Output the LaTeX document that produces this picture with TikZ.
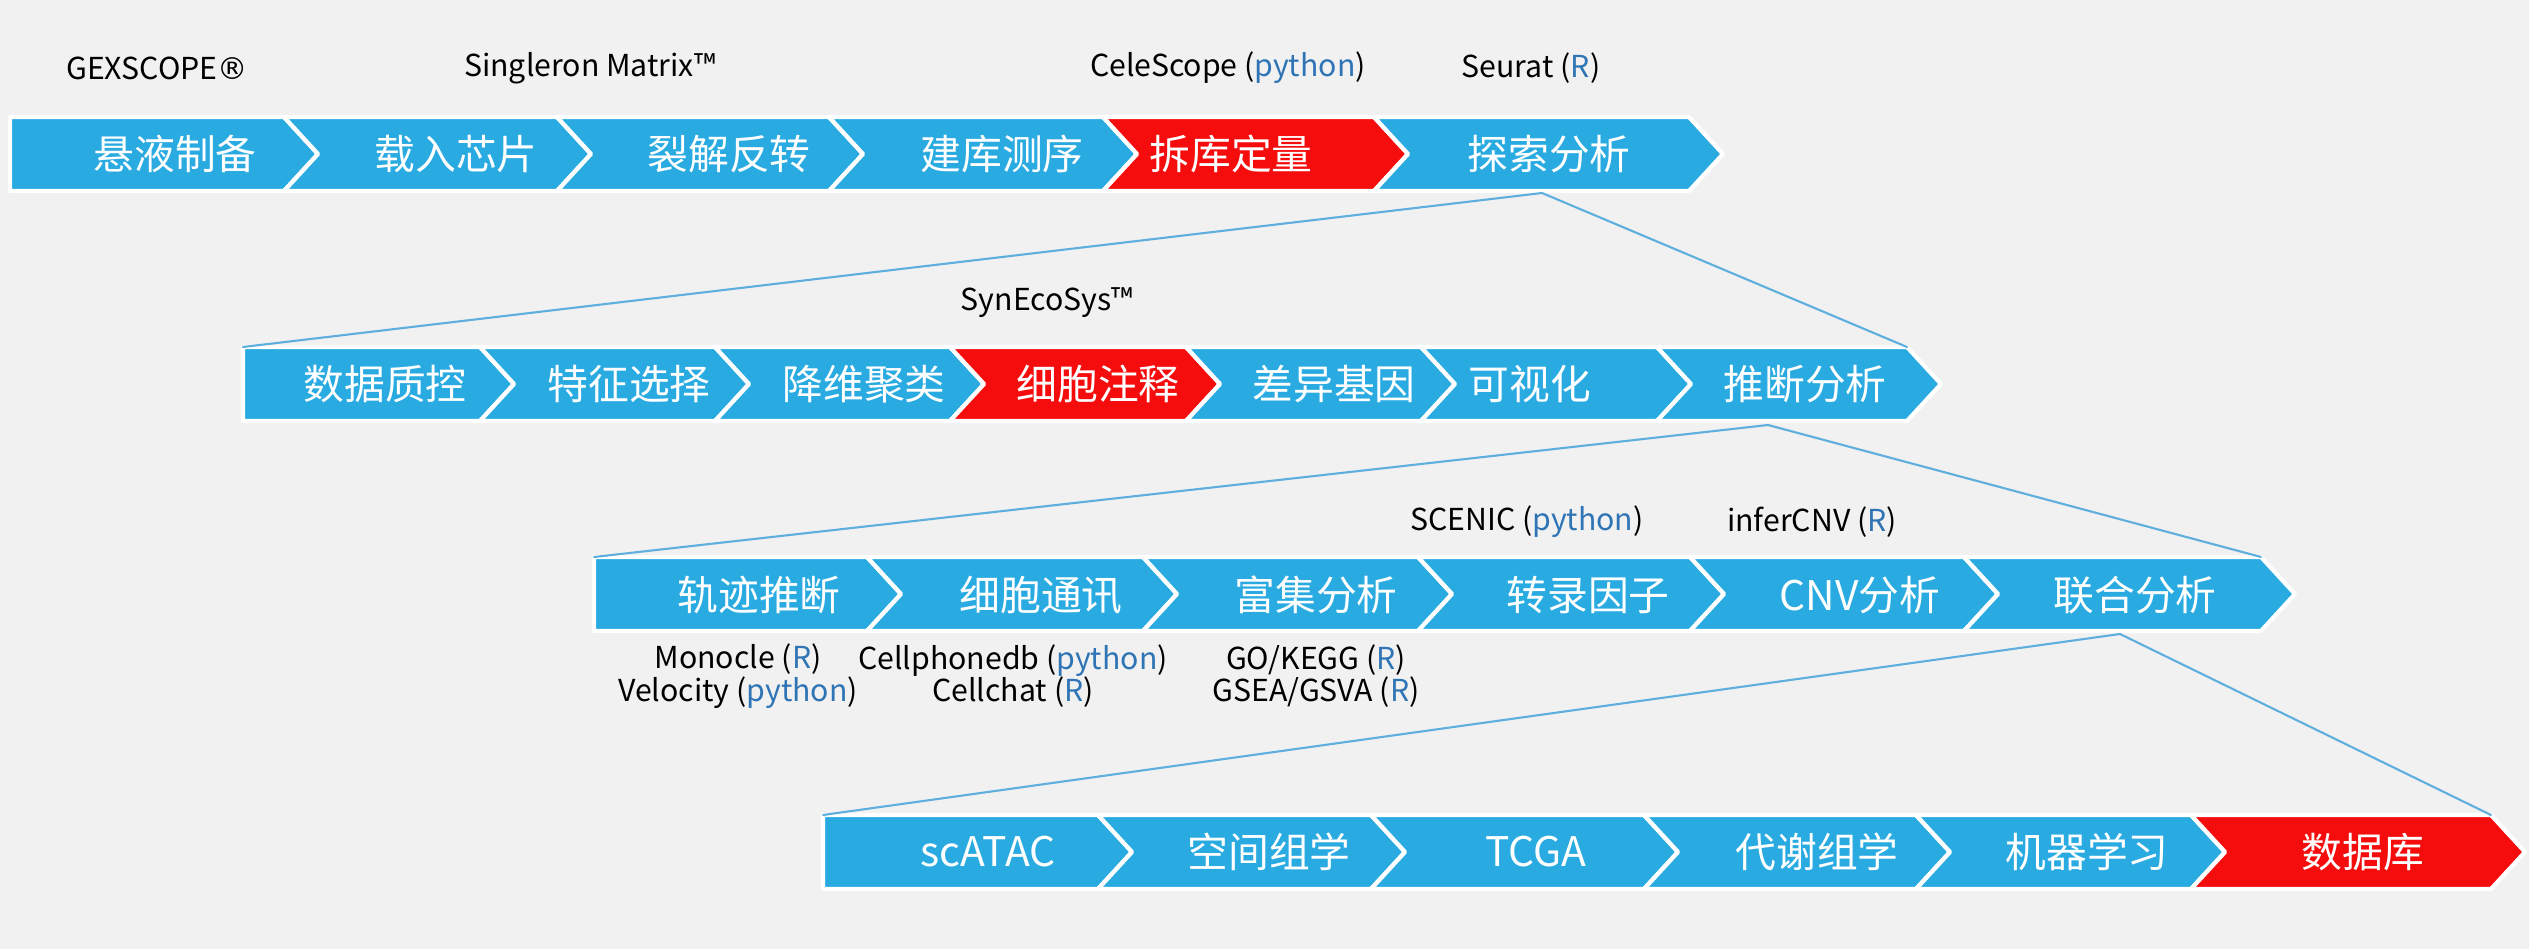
\documentclass[tikz,border=0pt]{standalone}
\usepackage{fontspec}
\setmainfont{Noto Sans CJK SC}
\newfontfamily\markfont{DejaVu Sans}
\definecolor{barblue}{RGB}{41,171,226}
\definecolor{barred}{RGB}{245,12,12}
\definecolor{toolblue}{RGB}{47,117,181}
\definecolor{linkblue}{RGB}{95,175,222}
\definecolor{bggray}{RGB}{241,241,241}
% one chevron: fill, left x, right x, top y, notch depth
\newcommand{\seg}[5]{%
  \filldraw[#1,draw=white,line width=1.2pt] (#2,#4) -- (#3,#4) -- ++(34,37) -- (#3,#4+74) -- (#2,#4+74) -- ++(#5,-37) -- cycle;}
\newcommand{\py}{(\textcolor{toolblue}{python})}
\newcommand{\rl}{(\textcolor{toolblue}{R})}

\begin{document}
\begin{tikzpicture}[x=0.01cm,y=-0.01cm,line cap=round,line join=round,
  lab/.style={text=white,font=\fontsize{11.6}{14}\selectfont},
  tool/.style={align=center,font=\fontsize{8.6}{9.2}\selectfont},
  link/.style={linkblue,line width=0.6pt}]
  \useasboundingbox (0,0) rectangle (2529,949);
  \fill[bggray] (0,0) rectangle (2529,949);

  % row 1
  \seg{fill=barblue}{10}{284}{117}{0}
  \seg{fill=barblue}{284}{557}{117}{34}
  \seg{fill=barblue}{557}{829}{117}{34}
  \seg{fill=barblue}{829}{1103}{117}{34}
  \seg{fill=barred}{1103}{1374}{117}{34}
  \seg{fill=barblue}{1374}{1689}{117}{34}
  \node[lab] (xuanye) at (175,154) {悬液制备};
  \node[lab] (zairu) at (456,154) {载入芯片};
  \node[lab] (liejie) at (729,154) {裂解反转};
  \node[lab] (jianku) at (1002,154) {建库测序};
  \node[lab] (chaiku) at (1231,154) {拆库定量};
  \node[lab] (tansuo) at (1549,154) {探索分析};
  \node[tool] (gex) at (157,68) {GEXSCOPE{\markfont ®}};
  \node[tool] (matrix) at (590,68) {Singleron Matrix™};
  \node[tool] (cele) at (1228,68) {CeleScope \py};
  \node[tool] (seurat) at (1531,68) {Seurat \rl};

  % row 2
  \seg{fill=barblue}{243}{480}{347}{0}
  \seg{fill=barblue}{480}{715}{347}{34}
  \seg{fill=barblue}{715}{950}{347}{34}
  \seg{fill=barred}{950}{1186}{347}{34}
  \seg{fill=barblue}{1186}{1421}{347}{34}
  \seg{fill=barblue}{1421}{1657}{347}{34}
  \seg{fill=barblue}{1657}{1907}{347}{34}
  \node[lab] (zhikong) at (385,384) {数据质控};
  \node[lab] (tezheng) at (629,384) {特征选择};
  \node[lab] (jiangwei) at (864,384) {降维聚类};
  \node[lab] (zhushi) at (1098,384) {细胞注释};
  \node[lab] (chayi) at (1334,384) {差异基因};
  \node[lab] (keshi) at (1530,384) {可视化};
  \node[lab] (tuiduan) at (1805,384) {推断分析};
  \node[tool] (syn) at (1047,303) {SynEcoSys™};

  % row 3
  \seg{fill=barblue}{594}{867}{557}{0}
  \seg{fill=barblue}{867}{1143}{557}{34}
  \seg{fill=barblue}{1143}{1418}{557}{34}
  \seg{fill=barblue}{1418}{1690}{557}{34}
  \seg{fill=barblue}{1690}{1964}{557}{34}
  \seg{fill=barblue}{1964}{2261}{557}{34}
  \node[lab] (guiji) at (759,595) {轨迹推断};
  \node[lab] (tongxun) at (1041,595) {细胞通讯};
  \node[lab] (fuji) at (1316,595) {富集分析};
  \node[lab] (zhuanlu) at (1588,595) {转录因子};
  \node[lab] (cnv) at (1860,595) {CNV分析};
  \node[lab] (lianhe) at (2135,595) {联合分析};
  \node[tool] (scenic) at (1527,522) {SCENIC \py};
  \node[tool] (infer) at (1812,522) {inferCNV \rl};
  \node[tool] (monocle) at (738,676) {Monocle \rl\\Velocity \py};
  \node[tool] (cellphone) at (1013,676) {Cellphonedb \py\\Cellchat \rl};
  \node[tool] (gokegg) at (1316,676) {GO/KEGG \rl\\GSEA/GSVA \rl};

  % row 4
  \seg{fill=barblue}{823}{1098}{815}{0}
  \seg{fill=barblue}{1098}{1371}{815}{34}
  \seg{fill=barblue}{1371}{1644}{815}{34}
  \seg{fill=barblue}{1644}{1916}{815}{34}
  \seg{fill=barblue}{1916}{2191}{815}{34}
  \seg{fill=barred}{2191}{2491}{815}{34}
  \node[lab] (scatac) at (988,852) {scATAC};
  \node[lab] (kongjian) at (1269,852) {空间组学};
  \node[lab] (tcga) at (1536,852) {TCGA};
  \node[lab] (daixie) at (1817,852) {代谢组学};
  \node[lab] (jiqi) at (2087,852) {机器学习};
  \node[lab] (shujuku) at (2363,852) {数据库};

  % zoom-out lines
  \coordinate (a1) at (1542,193);
  \coordinate (r2l) at (243,347);
  \coordinate (r2r) at (1907,347);
  \coordinate (a2) at (1768,425);
  \coordinate (r3l) at (594,557);
  \coordinate (r3r) at (2261,557);
  \coordinate (a3) at (2120,634);
  \coordinate (r4l) at (823,815);
  \coordinate (r4r) at (2491,815);
  \draw[link] (r2l) -- (a1) -- (r2r);
  \draw[link] (r3l) -- (a2) -- (r3r);
  \draw[link] (r4l) -- (a3) -- (r4r);
\end{tikzpicture}
\end{document}
